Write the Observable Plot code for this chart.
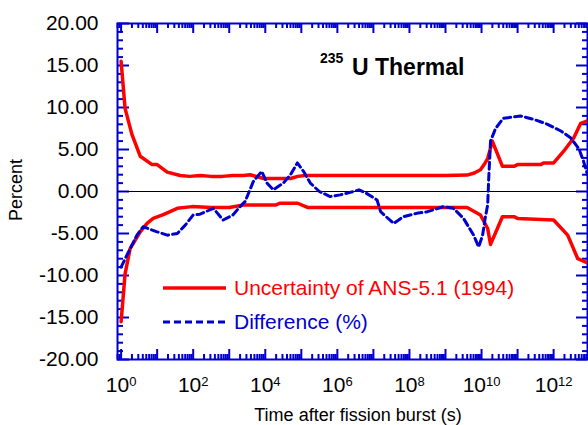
<!DOCTYPE html>
<html><head><meta charset="utf-8">
<script src="https://cdn.jsdelivr.net/npm/d3@7"></script>
<script src="https://cdn.jsdelivr.net/npm/@observablehq/plot@0.6"></script>
<style>body{margin:0;background:#fff} #chart{width:588px;height:425px}</style>
</head><body><div id="chart"></div>
<script>
// Data (time as log10 of seconds, values in percent)
const upperLogT = [0, 0.11, 0.3, 0.53, 0.86, 1.0, 1.28, 1.64, 1.9, 2.2, 2.5, 2.8, 3.1, 3.4, 3.58, 3.95, 4.3, 4.7, 4.9, 5.1, 6.0, 7.0, 8.0, 9.0, 9.6, 9.8, 9.97, 10.1, 10.17, 10.3, 10.58, 10.9, 11.0, 11.64, 11.72, 12.0, 12.28, 12.56, 12.75, 12.94];
const upperVal  = [15.5, 9.9, 6.8, 4.2, 3.2, 3.2, 2.3, 1.9, 1.8, 1.9, 1.8, 1.8, 1.9, 1.9, 2.0, 1.55, 1.55, 1.55, 1.8, 1.9, 1.9, 1.9, 1.9, 1.9, 1.95, 2.2, 2.6, 3.4, 3.9, 6.0, 3.0, 3.0, 3.2, 3.2, 3.4, 3.4, 4.8, 6.4, 8.1, 8.4];

const lowerLogT = [0, 0.11, 0.25, 0.53, 0.72, 0.89, 1.17, 1.56, 1.97, 2.5, 3.0, 3.4, 4.3, 4.4, 4.9, 5.17, 6.0, 7.0, 8.0, 9.0, 9.6, 9.97, 10.17, 10.25, 10.58, 10.9, 11.0, 12.0, 12.39, 12.67, 12.94];
const lowerVal  = [-15.5, -9.8, -6.8, -4.8, -3.8, -3.2, -2.75, -2.0, -1.8, -1.9, -1.9, -1.6, -1.6, -1.4, -1.4, -1.9, -1.9, -1.9, -1.9, -1.9, -1.9, -2.8, -4.4, -6.3, -3.0, -3.0, -3.2, -3.4, -5.2, -8.0, -8.5];

const diffLogT = [0, 0.17, 0.44, 0.61, 1.0, 1.28, 1.56, 1.78, 2.0, 2.19, 2.56, 2.83, 3.1, 3.3, 3.44, 3.67, 3.9, 4.05, 4.22, 4.5, 4.7, 4.89, 5.06, 5.25, 5.5, 5.8, 6.08, 6.36, 6.6, 6.8, 7.1, 7.2, 7.56, 7.83, 8.2, 8.5, 8.94, 9.22, 9.5, 9.78, 9.92, 10.03, 10.1, 10.17, 10.2, 10.25, 10.39, 10.6, 11.08, 11.44, 11.83, 12.2, 12.47, 12.7, 12.83, 12.94];
const diffVal  = [-9.0, -7.5, -5.2, -4.2, -4.8, -5.2, -5.0, -4.0, -2.8, -2.7, -2.0, -3.4, -2.8, -1.8, -1.2, 1.2, 2.4, 1.0, 0.2, 1.0, 2.0, 3.4, 2.4, 1.0, 0.0, -0.6, -0.4, -0.1, 0.2, -0.2, -1.0, -2.4, -3.8, -3.0, -2.6, -2.4, -1.8, -2.0, -3.2, -5.2, -6.6, -5.2, -3.2, -1.6, 1.6, 6.0, 7.5, 8.7, 9.0, 8.6, 8.0, 7.2, 6.4, 5.1, 3.6, 2.0];

const yTickVals = [-20, -15, -10, -5, 0, 5, 10, 15, 20];
const xLabelExps = [0, 2, 4, 6, 8, 10, 12];
const xDomainExp = [-0.1, 12.94];
const seriesNames = ["Uncertainty of ANS-5.1 (1994)", "Difference (%)"];
const titleSup = "235";
const titleMain = "U Thermal";
const xTitle = "Time after fission burst (s)";
const yTitle = "Percent";

const red = "#ff0000", blue = "#0000cc";
const FONT = "Arial, 'Liberation Sans', sans-serif";
const W = 588, H = 425, mL = 117, mR = 1, mT = 23, mB = 66;
const innerW = W - mL - mR, innerH = H - mT - mB;

const rows = (ls, vs) => ls.map((l, i) => ({t: 10 ** l, v: vs[i]}));
const upper = rows(upperLogT, upperVal);
const lower = rows(lowerLogT, lowerVal);
const diff = rows(diffLogT, diffVal);

const xMin = 10 ** xDomainExp[0], xMax = 10 ** xDomainExp[1];
const decadeTicks = [], minorTicks = [];
for (let k = -1; k <= 13; k++) {
  const d = 10 ** k;
  if (d >= xMin && d <= xMax) decadeTicks.push(d);
  for (let m = 2; m <= 9; m++) { const v = m * d; if (v >= xMin && v <= xMax) minorTicks.push(v); }
}
const yMajor = yTickVals;
const yMinor = d3.range(-20, 21, 1).filter(v => v % 5 !== 0);

const tk = {stroke: blue, strokeWidth: 2};
const chart = Plot.plot({
  width: W, height: H, marginLeft: mL, marginRight: mR, marginTop: mT, marginBottom: mB,
  style: {fontFamily: FONT, background: "white"},
  x: {type: "log", domain: [xMin, xMax]},
  y: {domain: [-20, 20]},
  marks: [
    Plot.frame({stroke: blue, strokeWidth: 2}),
    Plot.tickX(decadeTicks, {x: d => d, ...tk, insetBottom: innerH - 10}),
    Plot.tickX(minorTicks, {x: d => d, ...tk, insetBottom: innerH - 5}),
    Plot.tickX(decadeTicks, {x: d => d, ...tk, insetTop: innerH - 10}),
    Plot.tickX(minorTicks, {x: d => d, ...tk, insetTop: innerH - 5}),
    Plot.tickY(yMajor, {y: d => d, ...tk, insetRight: innerW - 12}),
    Plot.tickY(yMinor, {y: d => d, ...tk, insetRight: innerW - 6}),
    Plot.tickY(yMajor, {y: d => d, ...tk, insetLeft: innerW - 11}),
    Plot.tickY(yMinor, {y: d => d, ...tk, insetLeft: innerW - 5}),
    Plot.ruleY([0], {stroke: "black", strokeWidth: 1.2}),
    Plot.line(upper, {x: "t", y: "v", stroke: red, strokeWidth: 3.5, clip: true}),
    Plot.line(lower, {x: "t", y: "v", stroke: red, strokeWidth: 3.5, clip: true}),
    Plot.line(diff, {x: "t", y: "v", stroke: blue, strokeWidth: 3, strokeDasharray: "7,4", clip: true}),
    Plot.axisY({ticks: yTickVals, tickSize: 0, tickPadding: 19, tickFormat: d => d.toFixed(2), fontSize: 21, label: null}),
    Plot.axisX({ticks: xLabelExps.map(e => 10 ** e), tickSize: 0, tickPadding: 18, tickFormat: d => "10^" + Math.round(Math.log10(d)), fontSize: 21, label: null})
  ]
});
document.getElementById("chart").append(chart);

const svg = d3.select(chart);
svg.selectAll('g[aria-label="x-axis tick label"] text').each(function () {
  const s = this.textContent;
  const e = s.split("^")[1];
  const el = d3.select(this);
  el.text("10");
  el.append("tspan").attr("dy", "-0.48em").attr("font-size", "13px").text(e);
});

const g = svg.append("g").attr("font-family", FONT).attr("text-anchor", "start");
g.append("text").attr("x", 320).attr("y", 63).attr("font-weight", "bold").attr("font-size", 14).attr("fill", "black").text(titleSup);
g.append("text").attr("x", 352).attr("y", 75).attr("font-weight", "bold").attr("font-size", 23).attr("fill", "black").text(titleMain);
g.append("text").attr("x", 358).attr("y", 421).attr("text-anchor", "middle").attr("font-size", 18).attr("fill", "black").text(xTitle);
g.append("text").attr("transform", "translate(22,190) rotate(-90)").attr("text-anchor", "middle").attr("font-size", 18).attr("fill", "black").text(yTitle);

g.append("line").attr("x1", 163).attr("x2", 226).attr("y1", 288).attr("y2", 288).attr("stroke", red).attr("stroke-width", 3.5);
g.append("text").attr("x", 234).attr("y", 295).attr("font-size", 21).attr("fill", red).text(seriesNames[0]);
g.append("line").attr("x1", 163).attr("x2", 226).attr("y1", 322).attr("y2", 322).attr("stroke", blue).attr("stroke-width", 3).attr("stroke-dasharray", "7,4");
g.append("text").attr("x", 234).attr("y", 329).attr("font-size", 21).attr("fill", blue).text(seriesNames[1]);
</script>
</body></html>
